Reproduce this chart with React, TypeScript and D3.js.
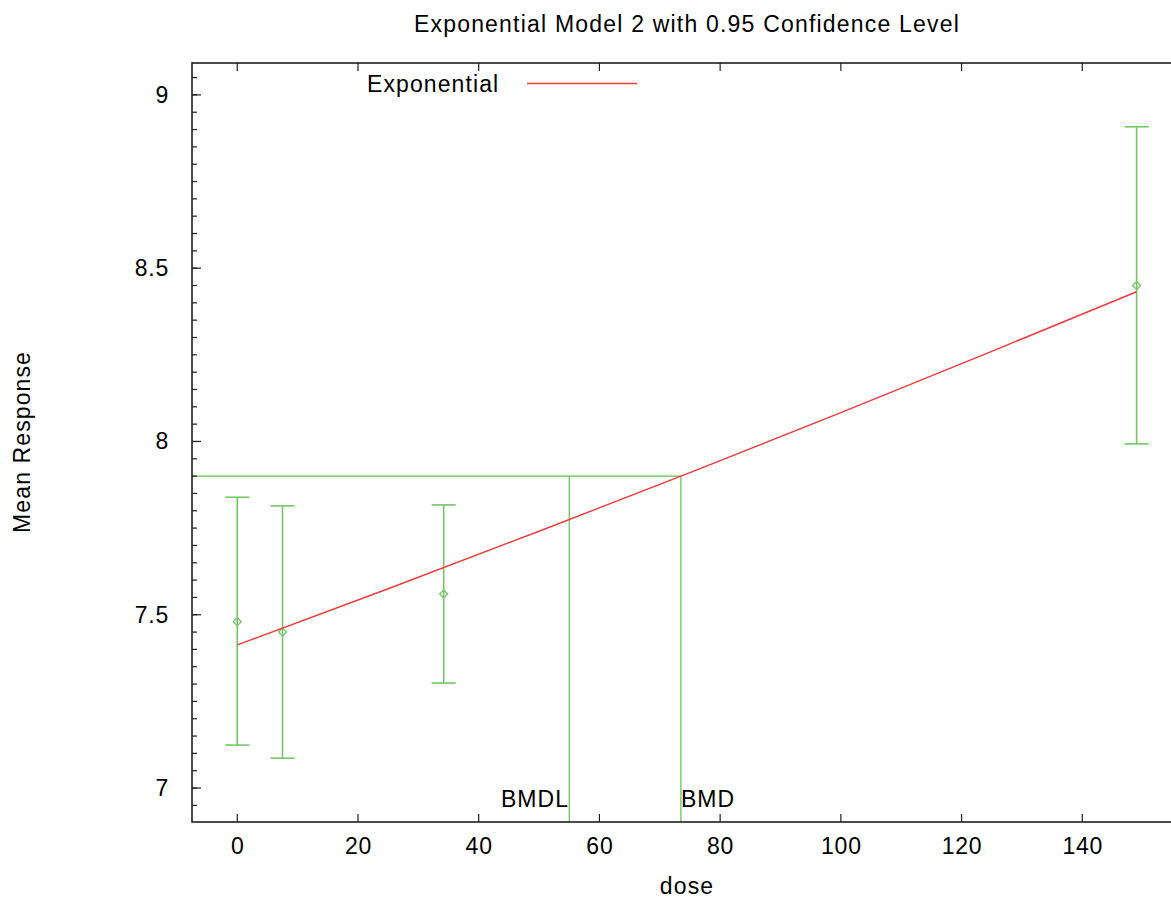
import React from "react";
import * as d3 from "d3";

const doses = [0, 7.5, 34.2, 149];
const means = [7.48, 7.45, 7.56, 8.45];
const lowerCI = [7.124, 7.086, 7.303, 7.993];
const upperCI = [7.839, 7.814, 7.817, 8.908];

const curveDose = [0, 25, 50, 75, 100, 125, 149];
const curveResp = [7.413, 7.575, 7.741, 7.91, 8.083, 8.26, 8.432];

const bmr = 7.9;
const bmd = 73.5;
const bmdl = 55.0;

const xTicks = [0, 20, 40, 60, 80, 100, 120, 140];
const yTicks = [7, 7.5, 8, 8.5, 9];

const W = 1171;
const H = 901;
const L = 192;
const R = 1203;
const T = 63;
const B = 822;

export default function App() {
  const x = d3.scaleLinear().domain([-7.5, 160]).range([L, R]);
  const y = d3.scaleLinear().domain([6.902, 9.092]).range([B, T]);
  const minor = d3.range(6.9, 9.1, 0.05).filter((v) => v >= 6.902 && v <= 9.092);
  const line = d3
    .line<number>()
    .x((_, i) => x(curveDose[i]))
    .y((d) => y(d))
    .curve(d3.curveMonotoneX);
  const font = "'Liberation Sans', Arial, sans-serif";
  const eb = "#74c765";
  const green = "#62bf4f";
  const red = "#f03a3a";
  const axis = "#1e1e1e";
  const fs = 23;
  const ls = 1.1;
  return (
    <svg
      width={W}
      height={H}
      style={{ position: "absolute", left: 0, top: 0, background: "#fff" }}
      fontFamily={font}
    >
      <rect x={0} y={0} width={W} height={H} fill="#fff" />
      <text x={687} y={32} textAnchor="middle" fontSize={23} letterSpacing={1.2} fill="#000">
        Exponential Model 2 with 0.95 Confidence Level
      </text>
      {/* BMD lines */}
      <line x1={L} x2={x(bmd)} y1={y(bmr)} y2={y(bmr)} stroke={green} strokeWidth={1.2} />
      <line x1={x(bmdl)} x2={x(bmdl)} y1={y(bmr)} y2={B} stroke={green} strokeWidth={1.2} />
      <line x1={x(bmd)} x2={x(bmd)} y1={y(bmr)} y2={B} stroke={green} strokeWidth={1.2} />
      <text x={x(bmdl)} y={807} textAnchor="end" fontSize={fs} letterSpacing={ls} fill="#000">BMDL</text>
      <text x={x(bmd)} y={807} textAnchor="start" fontSize={fs} letterSpacing={ls} fill="#000">BMD</text>
      {/* error bars */}
      {doses.map((d, i) => (
        <g key={i} stroke={eb} strokeWidth={1.6} fill="none">
          <line x1={x(d)} x2={x(d)} y1={y(lowerCI[i])} y2={y(upperCI[i])} />
          <line x1={x(d) - 12} x2={x(d) + 12} y1={y(lowerCI[i])} y2={y(lowerCI[i])} />
          <line x1={x(d) - 12} x2={x(d) + 12} y1={y(upperCI[i])} y2={y(upperCI[i])} />
          <path
            d={`M${x(d) - 4},${y(means[i])}L${x(d)},${y(means[i]) - 4}L${x(d) + 4},${y(means[i])}L${x(d)},${y(means[i]) + 4}Z`}
            strokeWidth={1.3}
          />
        </g>
      ))}
      {/* model curve */}
      <path d={line(curveResp) || ""} fill="none" stroke={red} strokeWidth={1.4} />
      {/* legend */}
      <text x={367} y={92} fontSize={fs} letterSpacing={ls} fill="#000">Exponential</text>
      <line x1={527} x2={637} y1={83.5} y2={83.5} stroke={red} strokeWidth={1.4} />
      {/* frame */}
      <rect x={L} y={T} width={R - L} height={B - T} fill="none" stroke={axis} strokeWidth={1.6} />
      {/* y ticks */}
      {minor.map((v, i) => (
        <line key={"m" + i} x1={L} x2={L + 5} y1={y(v)} y2={y(v)} stroke={axis} strokeWidth={1.2} />
      ))}
      {yTicks.map((v) => (
        <g key={"y" + v}>
          <line x1={L} x2={L + 9} y1={y(v)} y2={y(v)} stroke={axis} strokeWidth={1.2} />
          <text x={169} y={y(v) + 8} textAnchor="end" fontSize={fs} letterSpacing={0.8} fill="#000">
            {String(v)}
          </text>
        </g>
      ))}
      {/* x ticks */}
      {xTicks.map((v) => (
        <g key={"x" + v}>
          <line x1={x(v)} x2={x(v)} y1={B} y2={B - 8} stroke={axis} strokeWidth={1.2} />
          <line x1={x(v)} x2={x(v)} y1={T} y2={T + 8} stroke={axis} strokeWidth={1.2} />
          <text x={x(v) + 0.5} y={854} textAnchor="middle" fontSize={fs} letterSpacing={0.8} fill="#000">
            {String(v)}
          </text>
        </g>
      ))}
      <text x={687} y={894} textAnchor="middle" fontSize={fs} letterSpacing={ls} fill="#000">dose</text>
      <text
        transform={`translate(30,442) rotate(-90)`}
        textAnchor="middle"
        fontSize={fs}
        letterSpacing={ls}
        fill="#000"
      >
        Mean Response
      </text>
    </svg>
  );
}
